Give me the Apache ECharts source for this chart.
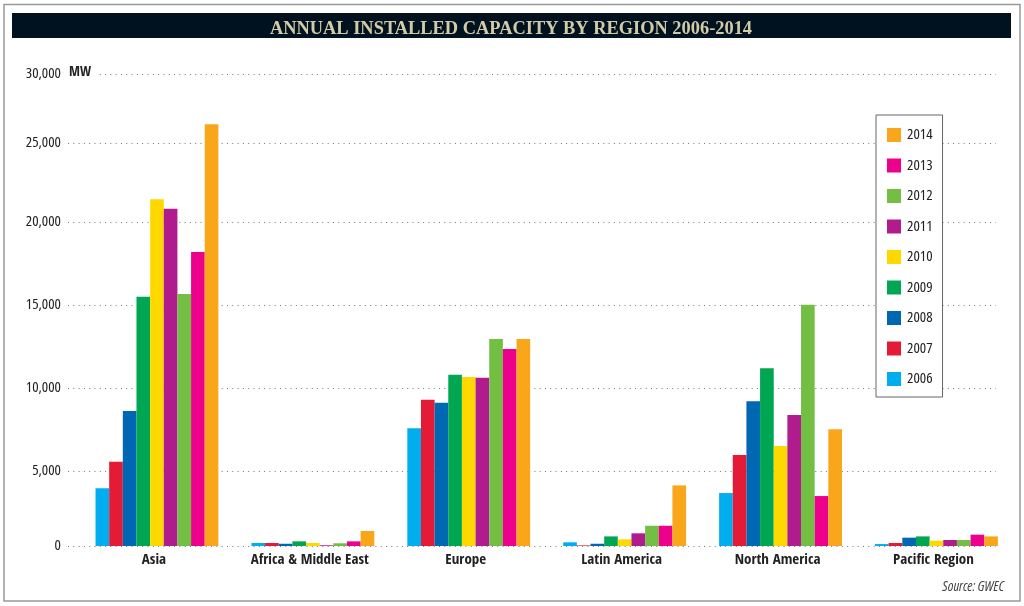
<!DOCTYPE html>
<html><head><meta charset="utf-8">
<style>html,body{margin:0;padding:0;background:#fff}#c{width:1024px;height:606px}</style>
<script src="https://cdn.jsdelivr.net/npm/echarts@6/dist/echarts.min.js"></script>
</head><body><div id="c"></div>
<script>
const regions = ['Asia','Africa & Middle East','Europe','Latin America','North America','Pacific Region'];
const years = ['2006','2007','2008','2009','2010','2011','2012','2013','2014'];
const v2006 = [3850,200,7570,245,3530,130];
const v2007 = [5560,200,9295,40,5960,200];
const v2008 = [8610,150,9115,150,9195,555];
const v2009 = [15500,310,10800,640,11190,640];
const v2010 = [21440,200,10660,440,6505,355];
const v2011 = [20840,50,10620,845,8375,400];
const v2012 = [15660,180,12950,1350,15020,400];
const v2013 = [18190,310,12350,1350,3330,755];
const v2014 = [26350,1000,12950,4040,7510,640];
const seriesValues = [v2006,v2007,v2008,v2009,v2010,v2011,v2012,v2013,v2014];
const yearColors = ['#00aeef','#e31b37','#0067b3','#00a651','#ffd800','#b01c8e','#72bf44','#ec008c','#faa61a'];
const tickValues = [0,5000,10000,15000,20000,25000,30000];
// The printed axis is unevenly spaced: where each labelled tick sits on a linear 0-30000 track.
const tickStops = [0,4767,10042,15318,20593,25614,30000];

function place(v){
  for(let i=1;i<tickValues.length;i++){
    if(v<=tickValues[i]){
      const t=(v-tickValues[i-1])/(tickValues[i]-tickValues[i-1]);
      return tickStops[i-1]+t*(tickStops[i]-tickStops[i-1]);
    }
  }
  return tickStops[tickStops.length-1];
}
const narrow = '"Open Sans","Noto Sans",sans-serif';
const narrowBold = '"Open Sans Condensed","Noto Sans",sans-serif';
const chart = echarts.init(document.getElementById('c'),null,{renderer:'canvas'});
chart.setOption({
  animation:false,
  backgroundColor:'#fff',
  title:{text:'ANNUAL INSTALLED CAPACITY BY REGION 2006-2014',left:506,top:15,textAlign:'center',
    textStyle:{color:'#d2cba8',fontFamily:'"Liberation Serif",serif',fontWeight:'bold',fontSize:18.4}},
  legend:{orient:'vertical',left:876,top:115,data:years.slice().reverse(),icon:'rect',itemWidth:14,itemHeight:14,itemGap:15.5,
    padding:[12.5,10,10.5,11],borderColor:'#666',borderWidth:1,backgroundColor:'#fff',selectedMode:false,itemStyle:{borderWidth:0},
    textStyle:{color:'#222',fontFamily:narrow,fontWeight:'condensed',fontSize:15,padding:[0,0,0,1]}},
  grid:[
    {left:79,right:9.6,top:74,bottom:60},
    {left:68,right:28,top:74,bottom:60}
  ],
  xAxis:[
    {gridIndex:0,type:'category',data:regions,axisLine:{show:false},axisTick:{show:false},
     axisLabel:{interval:0,color:'#222',fontFamily:narrowBold,fontSize:15,margin:7,padding:[0,6,0,0]}},
    {gridIndex:1,type:'value',min:0,max:1,show:false}
  ],
  yAxis:[
    {gridIndex:0,type:'value',min:0,max:30000,show:false},
    {gridIndex:1,type:'value',min:0,max:30000,axisLine:{show:false},
     axisTick:{show:false,customValues:tickStops},
     splitLine:{show:true,lineStyle:{color:'#777',width:1,type:[1,4.3]}},
     axisLabel:{customValues:tickStops,margin:7,color:'#222',fontFamily:narrow,fontWeight:'condensed',fontSize:15,
       formatter:(v)=>tickValues[tickStops.indexOf(v)].toLocaleString('en-US')}}
  ],
  series:years.map((y,i)=>({
    name:y,type:'bar',xAxisIndex:0,yAxisIndex:0,barGap:0,barCategoryGap:'21.2%',
    itemStyle:{color:yearColors[i]},
    data:seriesValues[i].map(place)
  })),
  graphic:[
    {type:'rect',z:-1,shape:{x:4,y:4.5,width:1016,height:596.5},style:{fill:'none',stroke:'#999',lineWidth:1.5}},
    {type:'rect',z:-1,shape:{x:12,y:13,width:999,height:25},style:{fill:'#00111f'}},
    {type:'text',z:5,left:66,top:65,style:{text:'MW',fill:'#222',font:'14px '+narrowBold,backgroundColor:'#fff',padding:[0,8,0,3]}},
    {type:'text',z:5,right:20,top:580,style:{text:'Source: GWEC',fill:'#444',font:'italic condensed 14px '+narrow}}
  ]
});
</script></body></html>
